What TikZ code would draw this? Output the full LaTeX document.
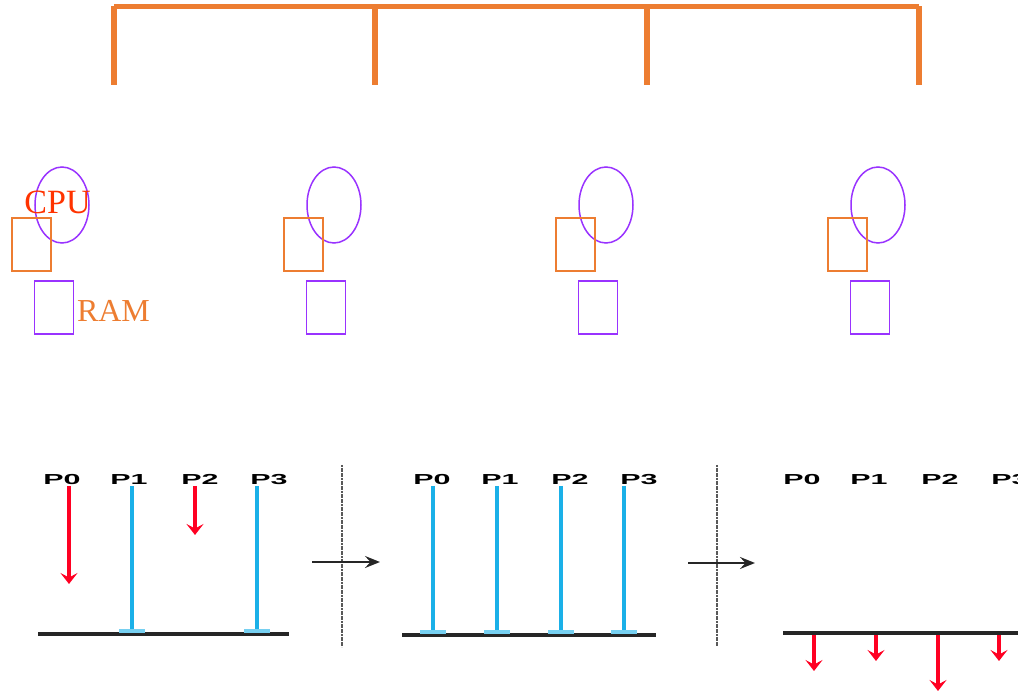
\documentclass[tikz,border=0pt]{standalone}
\usepackage{fontspec}
\usepackage{graphicx}
\setmainfont{Liberation Serif}
\newfontfamily\plabelfont{Liberation Sans}
\usetikzlibrary{shapes.geometric,arrows.meta}
\definecolor{busorange}{RGB}{237,125,49}
\definecolor{cpuviolet}{RGB}{153,51,255}
\definecolor{cpured}{RGB}{255,51,0}
\definecolor{procblue}{RGB}{26,176,232}
\definecolor{msgred}{RGB}{255,0,34}
\newcommand{\stretched}[1]{\scalebox{2.1}[1]{#1}}

\begin{document}
\begin{tikzpicture} [
                x=1pt, y=-1pt,
                bus/.style = {draw=busorange, line width=5.5pt},
                cpu/.style = {ellipse, draw=cpuviolet, line width=1.5pt, minimum width=54pt, minimum height=76pt, inner sep=0pt},
                cache/.style = {rectangle, draw=busorange, line width=1.3pt, minimum width=39pt, minimum height=53pt, inner sep=0pt},
                ram/.style = {rectangle, draw=cpuviolet, line width=1.5pt, minimum width=39pt, minimum height=53pt, inner sep=0pt},
                plabel/.style = {font=\plabelfont\bfseries\fontsize{14.5}{14.5}\selectfont, inner sep=0pt, anchor=base},
                wait/.style = {draw=procblue, line width=3.2pt},
                foot/.style = {draw=procblue!60, line width=3.2pt},
                msg/.style = {draw=msgred, line width=3.2pt, -{Stealth[length=11pt,width=17pt,inset=4.5pt]}},
                base/.style = {draw=black!85, line width=3.2pt},
                barrier/.style = {draw=black!65, line width=2pt, dash pattern=on 2pt off 0.6pt},
                flow/.style = {draw=black!85, line width=2.6pt, -{Stealth[length=15pt,width=12pt,inset=5.5pt]}}
            ]
        \useasboundingbox (0,0) rectangle (1018,692);
        % First the bus with its four taps
            \foreach \x/\n in {114/1, 375/2, 647/3, 919/4} {
                \coordinate (b\n) at (\x,6.5);
                \coordinate (t\n) at (\x,85);
            }
            \draw[bus] (b1) -- (b4);
            \foreach \n in {1,...,4}
                \draw[bus] (b\n) -- (t\n);
        % Then the nodes: cpu, cache, memory
            \foreach \x/\n in {62/1, 334/2, 606/3, 878/4} {
                \node[cpu] (cpu\n) at (\x,205) {};
                \node[cache] (cache\n) at (\x-30.5,244.5) {};
                \node[ram] (ram\n) at (\x-8,307.5) {};
            }
            \node[text=cpured, font=\fontsize{34}{34}\selectfont, inner sep=0pt] (cpulabel) at (57.5,202.5) {CPU};
            \node[text=busorange, font=\fontsize{32}{32}\selectfont, inner sep=0pt] (ramlabel) at (113.5,310.5) {RAM};
        % Processes before the barrier
            \foreach \x/\name in {62/P0, 129/P1, 200/P2, 269/P3}
                \node[plabel] (a\name) at (\x,485) {\stretched{\name}};
            \coordinate (abl) at (38,634);
            \coordinate (abr) at (289,634);
            \draw[base] (abl) -- (abr);
            \foreach \x/\n/\y in {69/0/584, 195/2/535} {
                \coordinate (as\n) at (\x,486);
                \coordinate (ae\n) at (\x,\y);
                \draw[msg] (as\n) -- (ae\n);
            }
            \foreach \x/\n in {132/1, 257/3} {
                \coordinate (as\n) at (\x,486);
                \coordinate (ae\n) at (\x,631);
                \draw[wait] (as\n) -- (ae\n);
                \draw[foot] ([xshift=-13pt]ae\n) -- ([xshift=13pt]ae\n);
            }
        % First barrier
            \coordinate (s1t) at (342,465);
            \coordinate (s1b) at (342,647);
            \draw[barrier] (s1t) -- (s1b);
            \coordinate (f1s) at (312,562);
            \coordinate (f1e) at (380,562);
            \draw[flow] (f1s) -- (f1e);
        % All processes waiting
            \foreach \x/\name in {432/P0, 500/P1, 570/P2, 639/P3}
                \node[plabel] (b\name) at (\x,485) {\stretched{\name}};
            \coordinate (bbl) at (402,635);
            \coordinate (bbr) at (656,635);
            \draw[base] (bbl) -- (bbr);
            \foreach \x/\n in {433/0, 497/1, 561/2, 624/3} {
                \coordinate (bs\n) at (\x,486);
                \coordinate (be\n) at (\x,632);
                \draw[wait] (bs\n) -- (be\n);
                \draw[foot] ([xshift=-13pt]be\n) -- ([xshift=13pt]be\n);
            }
        % Second barrier
            \coordinate (s2t) at (717,465);
            \coordinate (s2b) at (717,646);
            \draw[barrier] (s2t) -- (s2b);
            \coordinate (f2s) at (688,563);
            \coordinate (f2e) at (755,563);
            \draw[flow] (f2s) -- (f2e);
        % Processes released
            \foreach \x/\name in {802/P0, 869/P1, 940/P2, 1010/P3}
                \node[plabel] (c\name) at (\x,485) {\stretched{\name}};
            \coordinate (cbl) at (783,633);
            \coordinate (cbr) at (1030,633);
            \draw[base] (cbl) -- (cbr);
            \foreach \x/\n/\y in {814/0/671, 876/1/661, 938/2/691, 999/3/661} {
                \coordinate (cs\n) at (\x,635);
                \coordinate (ce\n) at (\x,\y);
                \draw[msg] (cs\n) -- (ce\n);
            }
        \end{tikzpicture}
\end{document}
